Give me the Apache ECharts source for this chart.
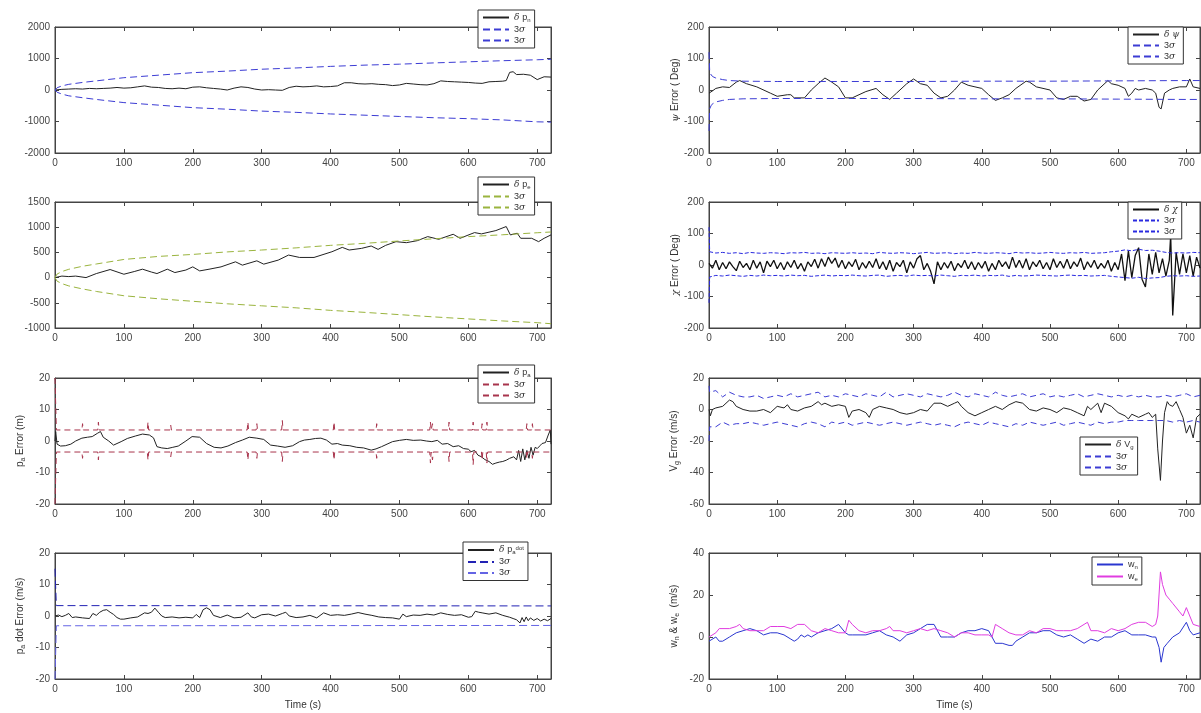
<!DOCTYPE html>
<html>
<head>
<meta charset="utf-8">
<script src="https://cdn.jsdelivr.net/npm/echarts@6/dist/echarts.min.js"></script>
<style>
html, body { margin: 0; padding: 0; background: #fff; }
#main { width: 1201px; height: 713px; }
</style>
</head>
<body>
<div id="main"></div>
<script>
// ---- data ----
// shared bound time grid (0, 1, then every 10 s)
var tS10 = [0,1,10,20,30,40,50,60,70,80,90,100,110,120,130,140,150,160,170,180,190,200,
    210,220,230,240,250,260,270,280,290,300,310,320,330,340,350,360,370,380,390,400,
    410,420,430,440,450,460,470,480,490,500,510,520,530,540,550,560,570,580,590,600,
    610,620,630,640,650,660,670,680,690,700,710,720];

// growing 3 sigma envelopes (p_n, p_e)
var tSig = [0,3,10,20,40,60,100,150,200,250,300,350,400,450,500,550,600,650,700,720];
var pnUp = [0,70,130,180,240,290,390,470,550,600,660,700,750,790,820,860,895,930,960,975];
var pnLo = [0,-70,-130,-185,-245,-300,-400,-480,-560,-610,-670,-710,-760,-800,-840,-880,-910,-950,-1010,-1020];
var peUp = [0,70,120,165,225,270,360,420,460,510,547,590,640,680,727,770,813,850,890,905];
var peLo = [0,-70,-120,-165,-225,-275,-360,-420,-470,-520,-560,-600,-650,-690,-735,-780,-820,-860,-895,-915];

// delta p_n
var tPn = [0,10,20,30,40,50,60,70,80,90,100,110,120,130,140,150,160,170,180,190,
    200,210,220,230,240,250,260,270,280,290,300,310,320,330,340,350,360,370,380,390,
    400,410,420,430,440,450,460,470,480,490,500,510,520,530,540,550,560,570,580,590,
    600,610,620,630,640,650,655,660,665,670,680,690,700,710,720];
var pn = [0,20,30,40,30,50,40,50,60,80, 60,70,100,130,90,80,50,40,60,40,
    90,100,70,50,30,0,60,100,80,30, 0,10,0,-10,80,120,100,110,130,100,
    110,130,230,230,200,190,200,180,170,140, 160,210,190,170,160,200,290,270,260,250,
    240,220,210,260,270,280,300,560,580,490,500,470,330,420,410];

// delta p_e
var tPe = [0,10,20,30,45,60,80,100,115,127, 140,148,163,174,190,200,210,225,241,262,
    272,293,303,324,339,355,376,402,417,427, 445,459,469,480,495,510,526,541,557,578,
    588,609,619,640,655,661,671,676,692,702, 710,720];
var pe = [0,30,20,30,0,80,160,67,120,167, 110,80,167,100,150,213,133,170,213,313,
    247,333,267,347,447,400,400,513,600,547, 580,627,560,640,713,693,733,813,760,860,
    780,893,867,933,1013,847,880,780,780,713, 780,847];

// delta p_a and its spiky 3 sigma
var tPa = [0,1,3,8,15,23,30,39,47,54, 62,66,70,78,85,96,105,117,127,137,
    143,148,155,163,171,179,190,199,210,220, 231,241,251,262,272,282,293,303,313,323,
    334,345,355,362,370,378,386,394,402,410, 417,428,438,448,459,466,474,482,490,500,
    510,520,531,539,547,555,562,570,578,586, 593,600,604,609,614,619,624,630,635,640,
    645,650,655,660,666,670,673,676,679,682, 685,688,691,694,697,700,704,707,712,716,
    719,720];
var pa = [0,3,-1,-1.6,-1.5,-1,0,0.9,1.2,1.4, 2.5,3,1.2,0,-1.3,-0.2,0.8,1.6,2.2,1.9,
    1,-1.8,-2.2,-2.4,-2,-1.6,0,1.4,1.2,-0.8, -2,-2.2,-1.6,-0.5,0.3,1.2,0.9,0.5,-1.3,-1.6,
    -2,-1.5,-0.2,0.3,0.5,0.8,0.9,0.3,-1,-0.8, -1.3,-1.5,-2,-2.2,-2.9,-2.5,-1.8,-1,-0.2,0.2,
    0.5,0.2,0.3,0,-0.2,0.2,-1,-0.8,-1.8,-1.5, -2.4,-2.6,-3.4,-3,-4.5,-5,-5.9,-6.5,-7.4,-7,
    -6.7,-6.5,-6.1,-5.5,-5,-6,-3,-6.5,-2.5,-6, -3,-5.5,-2,-4.5,-2,-2.4,-1.5,-0.8,-0.5,1.9,
    3.5,-1];
var tSa = [0,2, 39,40,41, 62,63,64, 134,135,136, 167,168,169, 279,280,281, 292,293,294,
    329,330,331, 404,405,406, 466,467,468, 544,545,546, 547,548,549, 571,572,573,
    606,607,608, 619,620,621, 626,627,628, 684,685,686, 692,693,694, 720];
var saUp = [20,3.5, 3.5,5.5,3.5, 3.5,6,3.5, 3.5,6,3.5, 3.5,5,3.5, 3.5,6,3.5, 3.5,5.5,3.5,
    3.5,6.5,3.5, 3.5,6,3.5, 3.5,5.5,3.5, 3.5,6,3.5, 3.5,5.5,3.5, 3.5,6,3.5,
    3.5,6,3.5, 3.5,5.5,3.5, 3.5,6,3.5, 3.5,5.5,3.5, 3.5,5.5,3.5, 3.5];
var saLo = [-20,-3.5, -3.5,-5.5,-3.5, -3.5,-6,-3.5, -3.5,-6,-3.5, -3.5,-5,-3.5, -3.5,-6,-3.5, -3.5,-5.5,-3.5,
    -3.5,-6.5,-3.5, -3.5,-6,-3.5, -3.5,-5.5,-3.5, -3.5,-7,-3.5, -3.5,-6,-3.5, -3.5,-6.5,-3.5,
    -3.5,-7.5,-3.5, -3.5,-6,-3.5, -3.5,-7,-3.5, -3.5,-5.5,-3.5, -3.5,-5.5,-3.5, -3.5];

// delta p_a dot
var tPd = [0,5,10,15,20,25,30,40,50,55, 60,65,70,75,80,85,90,95,100,110,
    120,130,135,140,145,150,155,160,170,180, 190,200,205,210,215,220,225,230,240,250,
    260,270,280,285,290,300,310,320,330,335, 340,350,360,370,380,390,400,410,420,430,
    440,450,460,470,480,490,500,505,510,520, 530,540,550,560,570,580,590,600,605,610,
    615,620,630,640,650,660,665,670,675,678, 681,684,687,690,695,700,705,710,715,720];
var pd = [0,0.3,-0.2,0.2,0.8,-0.5,-0.3,-0.6,-0.8,0.8, 0.2,1.2,1.8,2,1.2,0.5,-0.5,-1,-1,-0.6,
    -0.3,1,0.8,1.2,2.5,1.2,0,-0.5,-0.3,-0.6, -0.4,-0.6,0.5,-0.5,2,2.6,2,0.2,-0.5,0.3,
    -0.6,-0.4,1,-0.3,-0.6,0.4,0.6,0,0.8,1.2, 0,-0.5,-0.3,0.2,-0.6,1,0.2,0.4,0.2,0.6,
    1.1,0.6,0.2,-0.3,-0.5,-0.6,-1,0.6,-0.2,0.3, 0.2,0.6,0.3,1,0.5,0.2,0.4,-0.4,-0.2,1.5,
    1.2,1,0.6,1,0.2,-0.4,-0.8,-1.2,-2.2,-0.5, -1.8,-0.3,-1.5,-0.6,-1.4,-0.8,-1.6,-1,-1.5,-0.8];
var tSd = [0,2,720];
var sdUp = [15,3.3,3.2];
var sdLo = [-20,-3.1,-3];

// delta psi
var tPsi = [0,5,10,20,30,40,45,55,70,90, 100,115,120,125,140,150,160,170,180,190,
    200,210,220,230,245,255,265,275,290,300, 310,320,330,340,350,360,370,380,390,400,
    410,420,430,440,450,465,470,480,500,510, 520,530,540,550,560,570,585,590,600,610,
    615,620,625,630,640,650,655,660,663,668, 675,680,690,700,705,710,720];
var psi = [-10,-3,5,10,8,25,30,20,10,-10, -20,-15,-15,-25,-25,0,20,38,25,10,
    -25,-25,-15,-5,5,-15,-30,-10,20,35, 20,15,-10,-25,-20,0,25,15,10,5,
    -15,-33,-25,-15,5,28,25,10,0,-25, -30,-20,-20,-35,-30,0,30,20,15,5,
    -20,-10,5,0,5,0,-10,-55,-60,-10, 0,5,10,10,35,10,5];
var tSpsi = [0,1,3,6,10,20,30,50,100,200,300,400,500,600,700,720];
var psiUp = [120,60,48,42,38,33,30,28,27,27,27,28,28,29,30,30];
var psiLo = [-130,-60,-50,-42,-38,-33,-30,-28,-27,-27,-27,-28,-28,-29,-30,-30];

// delta chi (every 5 s, plus the 677 s spike)
var tChi = [0,5,10,15,20,25,30,35,40,45,50,55,60,65,70,75,80,85,90,95,
    100,105,110,115,120,125,130,135,140,145,150,155,160,165,170,175,180,185,190,195,
    200,205,210,215,220,225,230,235,240,245,250,255,260,265,270,275,280,285,290,295,
    300,305,310,315,320,325,330,335,340,345,350,355,360,365,370,375,380,385,390,395,
    400,405,410,415,420,425,430,435,440,445,450,455,460,465,470,475,480,485,490,495,
    500,505,510,515,520,525,530,535,540,545,550,555,560,565,570,575,580,585,590,595,
    600,605,610,615,620,625,630,635,640,645,650,655,660,665,670,675,677,
    680,685,690,695,700,705,710,715,720];
var chi = [5,-10,15,-15,8,-12,10,-5,-18,12,-8,5,-15,15,-10,10,-25,12,-5,15,
    -12,8,-15,10,-8,15,-12,5,-20,10,-5,18,-10,20,-5,25,5,22,-8,15,
    -12,10,-5,18,-15,8,-10,12,-8,20,-12,10,-15,15,-20,8,-5,15,-25,10,
    -10,20,30,-15,5,-20,-60,10,-15,8,-10,12,-18,5,-8,15,-12,10,-15,8,
    -10,12,-20,5,-15,15,-5,10,-12,25,-8,15,-10,20,-15,10,-5,15,-12,8,
    -15,20,-8,12,-10,18,-12,10,-5,22,-15,10,-8,15,-12,5,-10,15,-20,8,
    -15,35,-50,45,-40,30,55,-45,-70,35,-30,40,-25,20,-35,15,95,
    -160,40,-30,35,-25,30,-35,25,-10];
var chiUp = [120,42, 38,40,37,39,36,40,38,37,39,38, 36,39,38,40,37,38,36,39,38,37,
    39,37,38,36,40,38,37,39,38,36, 38,40,37,38,39,36,38,37,40,38,
    37,39,38,36,40,38,39,37,38,40, 38,37,39,38,40,37,38,39,42,44,
    48,45,50,46,47,44,40,38,39, 38,40,39];
var chiLo = [-120,-38, -33,-35,-32,-34,-36,-33,-35,-32,-34,-33, -35,-32,-34,-33,-36,-34,-32,-35,-33,-34,
    -32,-34,-35,-33,-32,-36,-34,-33,-35,-32, -34,-33,-35,-32,-34,-36,-33,-34,-32,-35,
    -33,-34,-32,-36,-33,-35,-34,-32,-33,-34, -35,-33,-32,-34,-33,-35,-34,-33,-36,-38,
    -40,-42,-39,-43,-41,-40,-36,-34,-35, -34,-36,-35];

// delta V_g
var tVg = [0,2,5,10,20,30,35,40,50,60, 70,80,90,100,110,115,120,130,140,150,
    160,165,170,180,190,200,205,210,220,230, 235,240,250,260,270,280,290,300,310,320,
    330,340,350,360,365,370,380,390,400,410, 420,430,440,450,460,470,480,490,500,510,
    520,530,540,550,555,560,570,575,580,590, 600,610,615,620,630,640,645,650,655,658,
    662,665,668,672,675,680,685,690,695,700, 705,710,715,720];
var vg = [0,-4,0,1,2,6,5,2,0,-1, -1,0,-2,2,1,3,0,-1,1,2,
    5,3,4,2,3,2,-5,-1,0,-2, -5,0,2,1,0,-2,-3,-2,0,-1,
    4,4,2,4,5,2,-2,-4,-2,0, 2,0,3,5,4,0,-1,1,0,-2,
    1,0,-2,-4,2,0,4,-2,4,2, -2,-4,-6,-3,-5,-3,-2,-5,-3,-25,
    -45,-20,-2,5,3,2,5,0,-5,-15, -10,-18,-5,-3];
var vgUp = [15,11, 12,8,11,9,8,8,9,7,8,9, 8,10,8,9,10,11,8,9,8,10,
    9,8,10,9,8,11,8,9,10,9, 8,10,9,8,9,11,9,8,10,9,
    8,11,9,8,9,10,8,9,10,8, 9,8,9,10,8,9,10,9,8,9,
    8,9,8,9,8,8,9,8,9, 10,8,9];
var vgLo = [-20,-11, -11,-8,-10,-9,-9,-8,-9,-10,-9,-8, -9,-10,-11,-9,-8,-9,-11,-8,-9,-8,
    -10,-9,-8,-9,-10,-9,-8,-9,-10,-9, -8,-9,-10,-9,-10,-11,-9,-8,-9,-10,
    -8,-9,-10,-11,-9,-10,-8,-9,-10,-9, -8,-10,-9,-8,-9,-10,-8,-9,-8,-8,
    -7,-7,-7,-7,-7,-7,-7,-8,-7, -8,-7,-8];

// wind estimates w_n, w_e
var tWn = [0,10,15,20,30,40,50,60,70,80, 90,100,110,120,125,130,135,140,145,150,
    160,170,180,190,200,205,210,230,240,250, 260,270,280,290,300,310,320,330,340,350,
    360,370,380,390,400,410,420,430,440,445, 450,460,470,480,490,500,510,520,530,540,
    550,560,570,580,590,600,610,620,630,640, 650,655,660,663,667,672,680,690,700,705,
    710,720];
var wn = [-2,0,-2,-2,0,2,3,4,3,1, 2,2,1,-1,-2,-1,1,0,1,0,
    2,3,4,6,2,1,1,1,2,3, 1,0,-2,1,2,4,6,6,0,0,
    0,2,3,3,4,3,-3,-3,-4,-4, -2,0,2,2,3,3,1,0,1,-1,
    -3,-1,-2,0,0,2,3,1,1,1, 0,0,-5,-12,-5,-3,0,2,7,3,
    1,2];
var tWe = [0,10,15,30,40,45,50,60,70,80, 90,100,110,120,130,140,150,160,170,180,
    190,200,205,210,220,230,240,250,260,265, 270,280,290,300,310,320,330,340,350,360,
    370,380,390,400,410,415,420,430,440,450, 460,470,480,490,500,510,520,530,540,550,
    555,560,570,580,590,600,610,620,630,640, 650,655,658,662,665,670,675,680,690,695,
    700,705,710,720];
var we = [0,2,4,4,5,6,4,3,3,3, 5,5,5,4,6,6,3,2,4,3,
    2,2,8,6,3,2,3,3,4,5, 3,3,2,3,4,3,4,3,2,0,
    2,2,1,1,1,0,6,4,2,1, 1,3,2,4,4,3,3,3,4,6,
    7,3,3,2,4,3,4,6,7,7, 5,6,10,31,25,20,18,16,12,10,
    14,10,6,5];

var xTicks = { min: 0, max: 720, interval: 100 };

function zip(t, v) {
    var out = [];
    var n = Math.min(t.length, v.length);
    for (var i = 0; i < n; i++) out.push([t[i], v[i]]);
    return out;
}

var FONT = '"Liberation Sans", Arial, sans-serif';
var rich = {
    b: { fontSize: 10, color: '#333', fontFamily: FONT },
    g: { fontSize: 10, color: '#333', fontFamily: '"DejaVu Serif", serif', fontStyle: 'italic' },
    s: { fontSize: 7, color: '#333', fontFamily: FONT, padding: [6, 0, 0, 0] },
    u: { fontSize: 7, color: '#333', fontFamily: FONT, padding: [0, 0, 5, 0] }
};
var lrich = {
    b: { fontSize: 9, color: '#333', fontFamily: FONT },
    g: { fontSize: 9, color: '#333', fontFamily: '"DejaVu Serif", serif', fontStyle: 'italic' },
    s: { fontSize: 6, color: '#333', fontFamily: FONT, padding: [5, 0, 0, 0] },
    u: { fontSize: 6, color: '#333', fontFamily: FONT, padding: [0, 0, 4, 0] }
};
var SIG = '{b|3}{g|σ}';
var BLUE = '#3c3cd4', BLUE2 = '#6464e4', GREEN = '#9ab43e', RED = '#a8344c', MAG = '#e03ce0';

var colL = 55, colR = 709, wL = 496, wR = 491, H = 126;
var tops = [27, 202, 378, 553];

// one entry per subplot: [name, legend text, data, colour, dash, width]
var panels = [
    { left: colL, width: wL, top: tops[0], ymin: -2000, ymax: 2000, step: 1000,
      yname: '{b|p}{s|n}{b| Error (m)}', gap: 53, lg: [478, 10],
      lines: [['A0', '{g|δ }{b|p}{s|n}', zip(tPn, pn), '#222', null],
              ['A1', SIG, zip(tSig, pnUp), BLUE, [7, 4]],
              ['A2', SIG, zip(tSig, pnLo), BLUE, [7, 4]]] },
    { left: colL, width: wL, top: tops[1], ymin: -1000, ymax: 1500, step: 500,
      yname: '{b|p}{s|e}{b| Error (m)}', gap: 53, lg: [478, 177],
      lines: [['B0', '{g|δ }{b|p}{s|e}', zip(tPe, pe), '#222', null],
              ['B1', SIG, zip(tSig, peUp), GREEN, [7, 4]],
              ['B2', SIG, zip(tSig, peLo), GREEN, [7, 4]]] },
    { left: colL, width: wL, top: tops[2], ymin: -20, ymax: 20, step: 10,
      yname: '{b|p}{s|a}{b| Error (m)}', gap: 28, lg: [478, 365],
      lines: [['C0', '{g|δ }{b|p}{s|a}', zip(tPa, pa), '#222', null],
              ['C1', SIG, zip(tSa, saUp), RED, [6, 4]],
              ['C2', SIG, zip(tSa, saLo), RED, [6, 4]]] },
    { left: colL, width: wL, top: tops[3], ymin: -20, ymax: 20, step: 10,
      yname: '{b|p}{s|a}{b| dot Error (m/s)}', gap: 28, lg: [463, 542], time: true,
      lines: [['D0', '{g|δ }{b|p}{s|a}{u|dot}', zip(tPd, pd), '#222', null],
              ['D1', SIG, zip(tSd, sdUp), '#2222b4', [8, 4]],
              ['D2', SIG, zip(tSd, sdLo), BLUE2, [8, 4]]] },
    { left: colR, width: wR, top: tops[0], ymin: -200, ymax: 200, step: 100,
      yname: '{g|ψ}{b| Error ( Deg)}', gap: 28, lg: [1128, 27],
      lines: [['E0', '{g|δ ψ}', zip(tPsi, psi), '#222', null],
              ['E1', SIG, zip(tSpsi, psiUp), BLUE, [7, 4]],
              ['E2', SIG, zip(tSpsi, psiLo), BLUE, [7, 4]]] },
    { left: colR, width: wR, top: tops[1], ymin: -200, ymax: 200, step: 100,
      yname: '{g|χ}{b| Error ( Deg)}', gap: 28, lg: [1128, 202],
      lines: [['F0', '{g|δ χ}', zip(tChi, chi), '#111', null, 1.3],
              ['F1', SIG, zip(tS10, chiUp), '#2a2ae0', [4, 2]],
              ['F2', SIG, zip(tS10, chiLo), '#2a2ae0', [4, 2]]] },
    { left: colR, width: wR, top: tops[2], ymin: -60, ymax: 20, step: 20,
      yname: '{b|V}{s|g}{b| Error (m/s)}', gap: 28, lg: [1080, 437],
      lines: [['G0', '{g|δ }{b|V}{s|g}', zip(tVg, vg), '#222', null],
              ['G1', SIG, zip(tS10, vgUp), BLUE, [6, 4]],
              ['G2', SIG, zip(tS10, vgLo), BLUE, [6, 4]]] },
    { left: colR, width: wR, top: tops[3], ymin: -20, ymax: 40, step: 20,
      yname: '{b|w}{s|n}{b| & w}{s|e}{b|  (m/s)}', gap: 28, lg: [1092, 557], time: true,
      lines: [['H0', '{b|w}{s|n}', zip(tWn, wn), '#2a36d0', null],
              ['H1', '{b|w}{s|e}', zip(tWe, we), MAG, null]] }
];

var axLine = { onZero: false, lineStyle: { color: '#444', width: 1 } };
var axTick = { inside: true, length: 4, lineStyle: { color: '#444' } };
var axLabel = { color: '#444', fontSize: 10, fontFamily: FONT, margin: 5, showMaxLabel: false };

var option = { animation: false, backgroundColor: '#fff',
    grid: [], xAxis: [], yAxis: [], series: [], legend: [] };
var labelMap = {};

panels.forEach(function (p, i) {
    option.grid.push({ left: p.left, top: p.top, width: p.width, height: H,
        outerBoundsMode: 'none', containLabel: false,
        show: true, borderColor: '#444', borderWidth: 1, backgroundColor: '#fff' });
    // bottom + top x axes
    option.xAxis.push({ type: 'value', gridIndex: i, position: 'bottom',
        min: xTicks.min, max: xTicks.max, interval: xTicks.interval,
        axisLine: axLine, axisTick: axTick, axisLabel: axLabel, splitLine: { show: false },
        name: p.time ? 'Time (s)' : '', nameLocation: 'middle', nameGap: 21,
        nameTextStyle: { fontSize: 10, color: '#333', fontFamily: FONT } });
    option.xAxis.push({ type: 'value', gridIndex: i, position: 'top',
        min: xTicks.min, max: xTicks.max, interval: xTicks.interval,
        axisLine: axLine, axisTick: axTick, axisLabel: { show: false }, splitLine: { show: false } });
    // left + right y axes
    option.yAxis.push({ type: 'value', gridIndex: i, position: 'left',
        min: p.ymin, max: p.ymax, interval: p.step,
        axisLine: axLine, axisTick: axTick,
        axisLabel: { color: '#444', fontSize: 10, fontFamily: FONT, margin: 5,
            formatter: function (v) { return String(v); } },
        splitLine: { show: false },
        name: p.yname, nameLocation: 'middle', nameRotate: 90, nameGap: p.gap,
        nameTextStyle: { rich: rich } });
    option.yAxis.push({ type: 'value', gridIndex: i, position: 'right',
        min: p.ymin, max: p.ymax, interval: p.step,
        axisLine: axLine, axisTick: axTick, axisLabel: { show: false }, splitLine: { show: false } });

    var names = [];
    p.lines.forEach(function (l) {
        labelMap[l[0]] = l[1];
        names.push(l[0]);
        option.series.push({ name: l[0], type: 'line', xAxisIndex: 2 * i, yAxisIndex: 2 * i,
            data: l[2], symbol: 'none', showSymbol: false, color: l[3],
            lineStyle: { color: l[3], width: l[5] || 1, type: l[4] || 'solid' } });
    });

    option.legend.push({ left: p.lg[0], top: p.lg[1], orient: 'vertical', data: names,
        itemWidth: 26, itemHeight: 10, itemGap: 2, padding: [3, 4, 3, 4],
        borderColor: '#333', borderWidth: 1, backgroundColor: '#fff', selectedMode: false,
        itemStyle: { opacity: 0 },
        formatter: function (n) { return labelMap[n]; },
        textStyle: { fontSize: 9, color: '#333', fontFamily: FONT, rich: lrich } });
});

var myChart = echarts.init(document.getElementById('main'));
myChart.setOption(option);
</script>
</body>
</html>
